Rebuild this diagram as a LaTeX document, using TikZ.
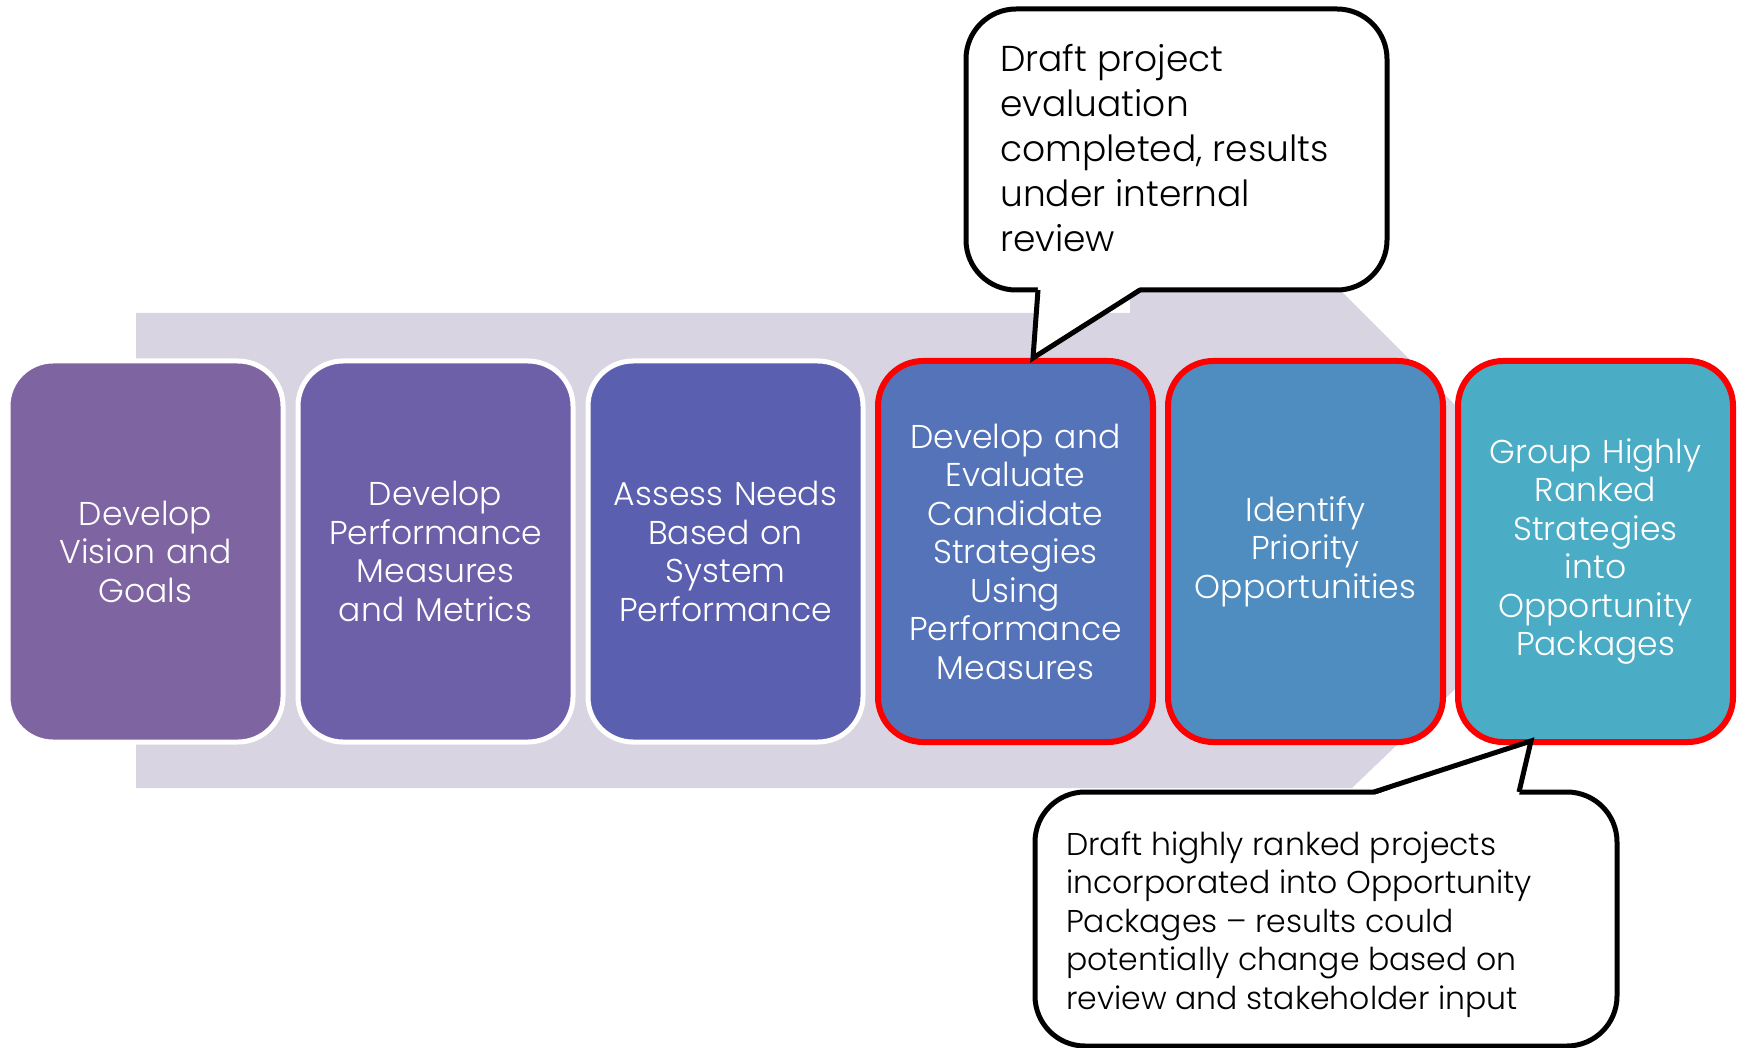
\documentclass[tikz,border=0pt]{standalone}
\usepackage{fontspec}
\IfFontExistsTF{Poppins Light}{\setmainfont{Poppins Light}}{\setmainfont{Poppins}}
\definecolor{arrowgray}{HTML}{D8D4E2}
\definecolor{cA}{HTML}{7F64A2}
\definecolor{cB}{HTML}{6E60A8}
\definecolor{cC}{HTML}{5A5FAF}
\definecolor{cD}{HTML}{5573B9}
\definecolor{cE}{HTML}{4F8CC0}
\definecolor{cF}{HTML}{4BACC6}
\definecolor{redbd}{HTML}{FF0000}
\tikzset{
  stepbox/.style={rounded corners=45pt, minimum width=275pt, minimum height=381pt,
    text width=268pt, align=center, text=white, inner sep=0pt,
    font=\fontsize{33}{38.5}\selectfont},
  plainbox/.style={stepbox, draw=white, line width=5pt},
  redbox/.style={stepbox, draw=redbd, line width=6pt},
  callbody/.style={draw=black, fill=white, line width=5pt, rounded corners=50pt},
  calltext/.style={align=left, inner sep=0pt, text=black},
}
\begin{document}
\begin{tikzpicture}[x=1pt,y=-1pt]
\useasboundingbox (0,0) rectangle (1737,1048);
\fill[white] (0,0) rectangle (1737,1048);
% background arrow
\fill[arrowgray] (136,313) -- (1130,313) -- (1130,80) -- (1600,550) -- (1352,788) -- (136,788) -- cycle;
% steps
\node[plainbox, fill=cA] (s1) at (145.5,551.5) {Develop\\Vision and\\Goals};
\node[plainbox, fill=cB] (s2) at (435.5,551.5) {Develop\\Performance\\Measures\\and Metrics};
\node[plainbox, fill=cC] (s3) at (725.5,551.5) {Assess Needs\\Based on\\System\\Performance};
\node[redbox, fill=cD] (s4) at (1015.5,551.5) {Develop and\\Evaluate\\Candidate\\Strategies\\Using\\Performance\\Measures};
\node[redbox, fill=cE] (s5) at (1305.5,551.5) {Identify\\Priority\\Opportunities};
\node[redbox, fill=cF] (s6) at (1595.5,551.5) {Group Highly\\Ranked\\Strategies\\into\\Opportunity\\Packages};
% top callout
\draw[callbody] (966,9) rectangle (1387,290);
\fill[white] (1038,287) -- (1033,358) -- (1140,287) -- cycle;
\draw[line width=5pt, line join=miter] (1038,290) -- (1033,358) -- (1140,290);
\node[calltext, anchor=north west, font=\fontsize{36}{45}\selectfont] (c1) at (1000,44)
  {Draft project\\evaluation\\completed, results\\under internal\\review};
% bottom callout
\draw[callbody] (1035,792) rectangle (1617,1046);
\fill[white] (1374,795) -- (1531,741) -- (1519,795) -- cycle;
\draw[line width=5pt, line join=miter] (1374,792) -- (1531,741) -- (1519,792);
\node[calltext, anchor=north west, font=\fontsize{31.5}{38.5}\selectfont] (c2) at (1066,831)
  {Draft highly ranked projects\\incorporated into Opportunity\\Packages -- results could\\potentially change based on\\review and stakeholder input};
\end{tikzpicture}
\end{document}
